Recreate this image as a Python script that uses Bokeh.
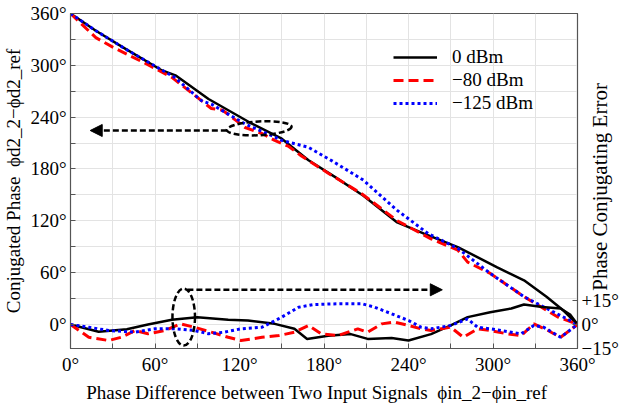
import math
from bokeh.plotting import figure
from bokeh.models import (Range1d, LinearAxis, FixedTicker, Arrow,
                          NormalHead, Legend, LegendItem)
from bokeh.embed import file_html
from bokeh.resources import INLINE

# ---------------- data ----------------
black_x = [0, 18, 37, 65, 75, 98, 127, 150, 169, 188, 208, 232, 251, 275, 303, 322, 338, 350, 360]
black_conj = [360, 340, 321, 294, 288, 261, 234, 215, 190, 170.5, 149, 118, 105, 89.5, 66, 51, 32, 16, 0]

red_x = [0, 18, 30, 51, 72, 100, 108, 124, 136, 145, 155, 164, 183, 207, 232, 256, 275, 282, 298, 322, 346, 360]
red_conj = [360, 332, 321, 304, 286, 250, 248, 228, 221, 213, 206, 195, 175, 151, 120, 99, 86, 72, 59, 32, 8.5, 0]

blue_x = [0, 18, 41, 74, 93, 100, 124, 145, 150, 169, 186, 208, 232, 254, 275, 298, 322, 341, 360]
blue_conj = [360, 340, 317, 286, 259, 255, 232, 217, 213, 205, 189, 167, 132, 105, 88, 59, 32, 16, 0]

black_err_x = [0, 20, 40, 55, 72, 90, 112, 126, 145, 159, 168, 183, 199, 211, 228, 240, 256, 270, 282,
               298, 313, 322, 335, 348, 355, 360]
black_err = [0, -4.5, -3, 0, 3, 4.6, 3, 2.5, 0.4, -2.7, -9, -7, -6, -9, -8.5, -10, -6, -0.6, 4.6,
             7.7, 10, 12.5, 11, 10, 6, 0]

red_err_x = [0, 13, 27, 36, 46, 55, 67, 78, 88, 100, 112, 121, 136, 148, 159, 169, 178, 190, 197, 204,
             211, 221, 230, 240, 249, 256, 270, 279, 289, 298, 310, 320, 329, 339, 348, 360]
red_err = [0, -8, -10, -8, -3.75, -5.8, -3.75, 0.4, -1.7, -4.8, -8, -10, -8, -6.9, -4.8, -0.6, -5.8,
           -6.9, -4.8, -2.7, -4.8, 0.4, 1.5, -0.6, -2.7, -3.75, -1.7, -8, -2.7, -3.75, -5.8, -6.9,
           0.4, -3.75, -8, 0]

blue_err_x = [0, 13, 27, 46, 60, 74, 88, 98, 109, 121, 136, 150, 162, 173, 192, 207, 216, 228, 240,
              249, 256, 270, 282, 289, 298, 313, 320, 329, 336, 348, 360]
blue_err = [0, -1.7, -3.75, -4.8, -2.7, -2.7, -3.75, -5.8, -4.8, -2.7, -1.7, 4.6, 10.8, 12.5, 13,
            13, 10.8, 6.7, 2.5, -1.7, -2.7, -0.6, 3.5, -1.7, -2.7, -4.8, -5.8, -0.6, -1.7, -8, 0]

series_labels = ["0 dBm", "\u221280 dBm", "\u2212125 dBm"]

x_ticks = [0, 60, 120, 180, 240, 300, 360]
x_minor = [30, 90, 150, 210, 270, 330]
y_ticks = [0, 60, 120, 180, 240, 300, 360]
y_minor = [30, 90, 150, 210, 270, 330]
err_ticks = [-15, 0, 15]
err_tick_labels = ["\u221215\u00b0", "0\u00b0", "+15\u00b0"]

x_title = "Phase Difference between Two Input Signals \u00a0\u03d5in_2\u2212\u03d5in_ref"
y_title = "Conjugated Phase \u00a0\u03d5d2_2\u2212\u03d5d2_ref"
err_title = "Phase Conjugating Error"

# ---------------- figure ----------------
FONT = "Liberation Serif"

p = figure(width=626, height=405, output_backend="svg", toolbar_location=None,
           x_range=Range1d(0, 360), y_range=Range1d(-28, 360),
           min_border_left=68, min_border_right=49, min_border_top=13, min_border_bottom=57)
p.extra_y_ranges = {"err": Range1d(-15, 194.4)}
p.outline_line_color = "#555555"
p.outline_line_width = 1.2

for ax in (p.xaxis[0], p.yaxis[0]):
    ax.major_label_text_font = FONT
    ax.major_label_text_font_size = "19px"
    ax.major_label_text_color = "black"
    ax.axis_line_color = "#555555"
    ax.major_tick_in = 5
    ax.major_tick_out = 0
    ax.minor_tick_in = 5
    ax.minor_tick_out = 0
    ax.major_tick_line_color = "#555555"
    ax.minor_tick_line_color = "#555555"
    ax.axis_label_text_font = FONT
    ax.axis_label_text_font_style = "normal"
    ax.axis_label_text_color = "black"

p.xaxis[0].ticker = FixedTicker(ticks=x_ticks, minor_ticks=x_minor)
p.yaxis[0].ticker = FixedTicker(ticks=y_ticks, minor_ticks=y_minor)
p.xaxis[0].major_label_overrides = {t: f"{t}\u00b0" for t in x_ticks}
p.yaxis[0].major_label_overrides = {t: f"{t}\u00b0" for t in y_ticks}
p.xaxis[0].major_label_standoff = 5
p.yaxis[0].major_label_standoff = 4

has_align = "axis_label_align" in p.xaxis[0].properties()

# a few trailing no-break spaces nudge the centred title slightly left, as in the reference
p.xaxis[0].axis_label = x_title + "\u00a0" * 3
p.xaxis[0].axis_label_text_font_size = "19px"
p.xaxis[0].axis_label_standoff = 4
p.yaxis[0].axis_label = y_title
p.yaxis[0].axis_label_text_font_size = "19px"
p.yaxis[0].axis_label_standoff = 3

for g in (p.xgrid[0], p.ygrid[0]):
    g.grid_line_color = "#e3e3e3"
    g.minor_grid_line_color = "#e3e3e3"
p.xgrid[0].ticker = FixedTicker(ticks=x_ticks, minor_ticks=x_minor)
p.ygrid[0].ticker = FixedTicker(ticks=y_ticks, minor_ticks=y_minor)

rax = LinearAxis(y_range_name="err", ticker=FixedTicker(ticks=err_ticks),
                 major_label_overrides=dict(zip(err_ticks, err_tick_labels)),
                 major_label_text_font=FONT, major_label_text_font_size="19px",
                 major_label_text_color="black", axis_line_color="#555555",
                 major_tick_in=5, major_tick_out=0, minor_tick_in=0, minor_tick_out=0,
                 major_tick_line_color="#555555", major_label_standoff=4,
                 axis_label_text_font=FONT,
                 axis_label_text_font_size="21px", axis_label_text_font_style="normal",
                 axis_label_text_color="black", axis_label_standoff=-22)
if has_align:
    # reads bottom-to-top as in the reference; anchored at the bottom of the axis
    rax.axis_label = "\u00a0" * 11 + err_title
    rax.axis_label_orientation = math.pi / 2
    rax.axis_label_align = "start"
else:
    rax.axis_label = err_title
p.add_layout(rax, "right")

# ---------------- curves ----------------
styles = [dict(line_color="black", line_width=2.5),
          dict(line_color="#ff0000", line_width=3, line_dash="10 5"),
          dict(line_color="#0000ff", line_width=3, line_dash="3 3")]

main = []
for xs, ys, st in zip([black_x, red_x, blue_x], [black_conj, red_conj, blue_conj], styles):
    main.append(p.line(xs, ys, **st))
for xs, ys, st in zip([black_err_x, red_err_x, blue_err_x], [black_err, red_err, blue_err], styles):
    p.line(xs, ys, y_range_name="err", **st)

legend = Legend(items=[LegendItem(label=l, renderers=[r]) for l, r in zip(series_labels, main)],
                location=(315, 226), label_text_font=FONT, label_text_font_size="19px",
                label_text_color="black", glyph_width=44, glyph_height=20, label_standoff=15,
                spacing=1, padding=8, background_fill_alpha=0, border_line_alpha=0)
p.add_layout(legend)

# ---------------- annotations (arrows / ellipses) ----------------
dash = dict(line_color="black", line_width=2.5, line_dash="6 3")
p.ellipse(x=[134], y=[227], width=[46], height=[16], angle=[0.05], fill_alpha=0, **dash)
p.ellipse(x=[80.4], y=[8.4], width=[16], height=[66], fill_alpha=0, **dash)
p.add_layout(Arrow(x_start=111, y_start=224.5, x_end=14, y_end=224.5,
                   end=NormalHead(size=12, fill_color="black", line_color="black", line_width=1),
                   **dash))
p.add_layout(Arrow(x_start=83, y_start=40, x_end=264, y_end=40,
                   end=NormalHead(size=12, fill_color="black", line_color="black", line_width=1),
                   **dash))

open("out.html", "w").write(file_html(p, INLINE))
